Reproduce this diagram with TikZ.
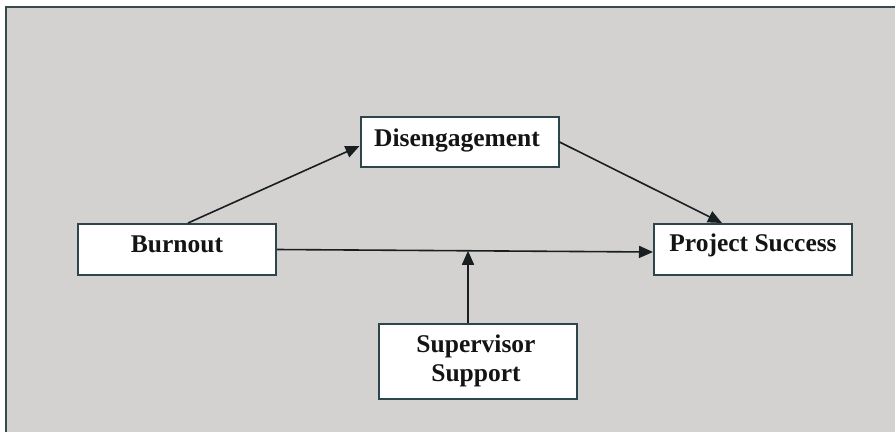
\documentclass[tikz,border=0pt]{standalone}
\usepackage{fontspec}
\setmainfont{Liberation Serif}
\usetikzlibrary{arrows.meta,calc}
\definecolor{bgray}{RGB}{211,210,208}
\definecolor{frame}{RGB}{55,75,78}
\definecolor{boxline}{RGB}{45,70,75}
\definecolor{arr}{RGB}{25,30,32}
\tikzset{
  box/.style={draw=boxline, line width=2pt, fill=white, minimum width=198pt, inner sep=0pt},
  lbl/.style={font=\fontsize{25.5}{29}\selectfont\bfseries, text=black!92, align=center, inner sep=0pt},
  conn/.style={draw=arr, line width=1.6pt, -{Triangle[length=14pt,width=12pt]}}
}
\begin{document}
\begin{tikzpicture}[x=1pt,y=-1pt]
\useasboundingbox (0,0) rectangle (895,432);
\fill[bgray] (6,7) rectangle (895,432);
\draw[frame, line width=2.2pt] (6,432) -- (6,7) -- (895,7);
% boxes
\node[box, minimum height=50pt] (di) at (459.5,142) {};
\node[box, minimum height=51pt] (bo) at (177,249.5) {};
\node[box, minimum height=51pt] (ps) at (753,249.5) {};
\node[box, minimum height=75pt] (ss) at (478,361.5) {};
% labels
\node[lbl] (diT) at (457,140) {Disengagement};
\node[lbl] (boT) at (177,244) {Burnout};
\node[lbl] (psT) at (753,245) {Project Success};
\node[lbl] (ssT) at (476,361) {Supervisor\\Support};
% connectors
\draw[conn] ([xshift=11pt]bo.north) -- ([yshift=-4pt]di.west);
\draw[conn] (di.east) -- ([xshift=-31pt]ps.north);
\draw[conn] (bo.east) -- ([yshift=-2.5pt]ps.west);
\coordinate (m) at ($(bo.east)!0.508!([yshift=-2.5pt]ps.west)$);
\draw[conn] (ss.north -| m) -- (m);
\end{tikzpicture}
\end{document}
